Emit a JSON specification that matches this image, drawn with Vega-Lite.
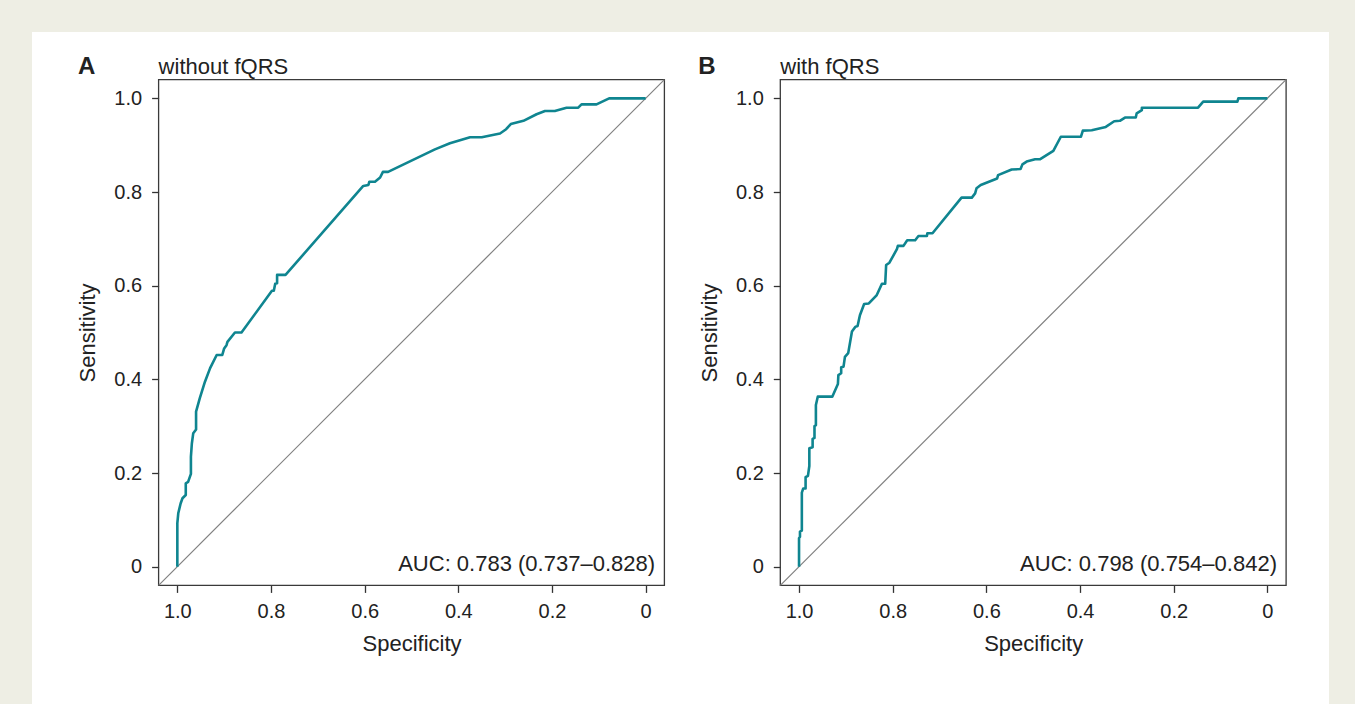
{
  "$schema": "https://vega.github.io/schema/vega-lite/v6.json",
  "background": "#EEEEE4",
  "padding": {"left": 32, "top": 32, "right": 26, "bottom": 0},
  "spacing": 0,
  "bounds": "flush",
  "config": {
    "font": "Liberation Sans",
    "view": {"stroke": null},
    "axis": {
      "domain": false,
      "grid": false,
      "tickSize": 7,
      "tickColor": "#333333",
      "tickWidth": 1.3,
      "labelFontSize": 20,
      "labelColor": "#222222",
      "labelFlush": false,
      "labelOverlap": false,
      "titleFontSize": 22,
      "titleFontWeight": "normal",
      "titleColor": "#222222"
    }
  },
  "datasets": {
    "rocA": [
      {"i": 1, "spec": 1.0, "sens": 0.0},
      {"i": 2, "spec": 1.0, "sens": 0.093},
      {"i": 3, "spec": 0.998, "sens": 0.114},
      {"i": 4, "spec": 0.993, "sens": 0.135},
      {"i": 5, "spec": 0.989, "sens": 0.146},
      {"i": 6, "spec": 0.982, "sens": 0.153},
      {"i": 7, "spec": 0.982, "sens": 0.178},
      {"i": 8, "spec": 0.977, "sens": 0.181},
      {"i": 9, "spec": 0.971, "sens": 0.198},
      {"i": 10, "spec": 0.971, "sens": 0.235},
      {"i": 11, "spec": 0.969, "sens": 0.263},
      {"i": 12, "spec": 0.966, "sens": 0.285},
      {"i": 13, "spec": 0.96, "sens": 0.293},
      {"i": 14, "spec": 0.96, "sens": 0.331},
      {"i": 15, "spec": 0.952, "sens": 0.36},
      {"i": 16, "spec": 0.941, "sens": 0.395},
      {"i": 17, "spec": 0.93, "sens": 0.424},
      {"i": 18, "spec": 0.916, "sens": 0.452},
      {"i": 19, "spec": 0.904, "sens": 0.452},
      {"i": 20, "spec": 0.9, "sens": 0.466},
      {"i": 21, "spec": 0.895, "sens": 0.473},
      {"i": 22, "spec": 0.893, "sens": 0.48},
      {"i": 23, "spec": 0.877, "sens": 0.5},
      {"i": 24, "spec": 0.863, "sens": 0.5},
      {"i": 25, "spec": 0.798, "sens": 0.589},
      {"i": 26, "spec": 0.794, "sens": 0.589},
      {"i": 27, "spec": 0.791, "sens": 0.604},
      {"i": 28, "spec": 0.787, "sens": 0.605},
      {"i": 29, "spec": 0.787, "sens": 0.623},
      {"i": 30, "spec": 0.769, "sens": 0.623},
      {"i": 31, "spec": 0.603, "sens": 0.813},
      {"i": 32, "spec": 0.592, "sens": 0.815},
      {"i": 33, "spec": 0.59, "sens": 0.822},
      {"i": 34, "spec": 0.578, "sens": 0.822},
      {"i": 35, "spec": 0.567, "sens": 0.831},
      {"i": 36, "spec": 0.561, "sens": 0.843},
      {"i": 37, "spec": 0.55, "sens": 0.843},
      {"i": 38, "spec": 0.45, "sens": 0.891},
      {"i": 39, "spec": 0.418, "sens": 0.904},
      {"i": 40, "spec": 0.375, "sens": 0.917},
      {"i": 41, "spec": 0.35, "sens": 0.917},
      {"i": 42, "spec": 0.311, "sens": 0.925},
      {"i": 43, "spec": 0.298, "sens": 0.934},
      {"i": 44, "spec": 0.288, "sens": 0.945},
      {"i": 45, "spec": 0.261, "sens": 0.952},
      {"i": 46, "spec": 0.233, "sens": 0.966},
      {"i": 47, "spec": 0.215, "sens": 0.973},
      {"i": 48, "spec": 0.194, "sens": 0.973},
      {"i": 49, "spec": 0.169, "sens": 0.98},
      {"i": 50, "spec": 0.144, "sens": 0.98},
      {"i": 51, "spec": 0.137, "sens": 0.987},
      {"i": 52, "spec": 0.105, "sens": 0.987},
      {"i": 53, "spec": 0.078, "sens": 1.0},
      {"i": 54, "spec": 0.0, "sens": 1.0}
    ],
    "rocB": [
      {"i": 1, "spec": 1.0, "sens": 0.0},
      {"i": 2, "spec": 1.0, "sens": 0.061},
      {"i": 3, "spec": 0.998, "sens": 0.064},
      {"i": 4, "spec": 0.998, "sens": 0.075},
      {"i": 5, "spec": 0.994, "sens": 0.077},
      {"i": 6, "spec": 0.994, "sens": 0.158},
      {"i": 7, "spec": 0.991, "sens": 0.167},
      {"i": 8, "spec": 0.986, "sens": 0.167},
      {"i": 9, "spec": 0.986, "sens": 0.191},
      {"i": 10, "spec": 0.981, "sens": 0.194},
      {"i": 11, "spec": 0.978, "sens": 0.215},
      {"i": 12, "spec": 0.978, "sens": 0.253},
      {"i": 13, "spec": 0.971, "sens": 0.255},
      {"i": 14, "spec": 0.971, "sens": 0.273},
      {"i": 15, "spec": 0.967, "sens": 0.275},
      {"i": 16, "spec": 0.967, "sens": 0.3},
      {"i": 17, "spec": 0.964, "sens": 0.302},
      {"i": 18, "spec": 0.964, "sens": 0.345},
      {"i": 19, "spec": 0.96, "sens": 0.363},
      {"i": 20, "spec": 0.929, "sens": 0.363},
      {"i": 21, "spec": 0.917, "sens": 0.39},
      {"i": 22, "spec": 0.916, "sens": 0.409},
      {"i": 23, "spec": 0.91, "sens": 0.413},
      {"i": 24, "spec": 0.91, "sens": 0.426},
      {"i": 25, "spec": 0.905, "sens": 0.427},
      {"i": 26, "spec": 0.902, "sens": 0.448},
      {"i": 27, "spec": 0.895, "sens": 0.456},
      {"i": 28, "spec": 0.887, "sens": 0.502},
      {"i": 29, "spec": 0.88, "sens": 0.512},
      {"i": 30, "spec": 0.875, "sens": 0.514},
      {"i": 31, "spec": 0.87, "sens": 0.537},
      {"i": 32, "spec": 0.861, "sens": 0.561},
      {"i": 33, "spec": 0.851, "sens": 0.562},
      {"i": 34, "spec": 0.834, "sens": 0.58},
      {"i": 35, "spec": 0.823, "sens": 0.604},
      {"i": 36, "spec": 0.816, "sens": 0.604},
      {"i": 37, "spec": 0.814, "sens": 0.644},
      {"i": 38, "spec": 0.807, "sens": 0.649},
      {"i": 39, "spec": 0.791, "sens": 0.678},
      {"i": 40, "spec": 0.789, "sens": 0.685},
      {"i": 41, "spec": 0.777, "sens": 0.685},
      {"i": 42, "spec": 0.769, "sens": 0.697},
      {"i": 43, "spec": 0.752, "sens": 0.697},
      {"i": 44, "spec": 0.745, "sens": 0.706},
      {"i": 45, "spec": 0.727, "sens": 0.706},
      {"i": 46, "spec": 0.726, "sens": 0.712},
      {"i": 47, "spec": 0.715, "sens": 0.712},
      {"i": 48, "spec": 0.653, "sens": 0.788},
      {"i": 49, "spec": 0.631, "sens": 0.788},
      {"i": 50, "spec": 0.624, "sens": 0.797},
      {"i": 51, "spec": 0.621, "sens": 0.808},
      {"i": 52, "spec": 0.612, "sens": 0.815},
      {"i": 53, "spec": 0.577, "sens": 0.829},
      {"i": 54, "spec": 0.575, "sens": 0.836},
      {"i": 55, "spec": 0.546, "sens": 0.848},
      {"i": 56, "spec": 0.527, "sens": 0.849},
      {"i": 57, "spec": 0.523, "sens": 0.859},
      {"i": 58, "spec": 0.514, "sens": 0.865},
      {"i": 59, "spec": 0.496, "sens": 0.87},
      {"i": 60, "spec": 0.485, "sens": 0.87},
      {"i": 61, "spec": 0.457, "sens": 0.888},
      {"i": 62, "spec": 0.441, "sens": 0.918},
      {"i": 63, "spec": 0.398, "sens": 0.918},
      {"i": 64, "spec": 0.394, "sens": 0.931},
      {"i": 65, "spec": 0.375, "sens": 0.932},
      {"i": 66, "spec": 0.345, "sens": 0.939},
      {"i": 67, "spec": 0.327, "sens": 0.951},
      {"i": 68, "spec": 0.315, "sens": 0.952},
      {"i": 69, "spec": 0.304, "sens": 0.959},
      {"i": 70, "spec": 0.281, "sens": 0.959},
      {"i": 71, "spec": 0.279, "sens": 0.968},
      {"i": 72, "spec": 0.268, "sens": 0.975},
      {"i": 73, "spec": 0.268, "sens": 0.98},
      {"i": 74, "spec": 0.148, "sens": 0.98},
      {"i": 75, "spec": 0.137, "sens": 0.993},
      {"i": 76, "spec": 0.064, "sens": 0.993},
      {"i": 77, "spec": 0.062, "sens": 1.0},
      {"i": 78, "spec": 0.0, "sens": 1.0}
    ]
  },
  "hconcat": [
    {
      "width": 658,
      "height": 672,
      "view": {"fill": "white", "stroke": null},
      "layer": [
        {
          "data": {"values": [{}]},
          "mark": {"type": "rect", "filled": false, "stroke": "#3a3a3a", "strokeWidth": 1.3},
          "encoding": {
            "x": {"datum": 1.04, "type": "quantitative"},
            "x2": {"datum": -0.04},
            "y": {"datum": -0.04, "type": "quantitative"},
            "y2": {"datum": 1.04}
          }
        },
        {
          "data": {"values": [{}]},
          "mark": {"type": "rule", "color": "#808080", "strokeWidth": 1.2},
          "encoding": {
            "x": {"datum": 1.04, "type": "quantitative"},
            "x2": {"datum": -0.04},
            "y": {"datum": -0.04, "type": "quantitative"},
            "y2": {"datum": 1.04}
          }
        },
        {
          "data": {"name": "rocA"},
          "mark": {"type": "line", "color": "#0f8590", "strokeWidth": 2.6, "strokeJoin": "round"},
          "encoding": {
            "x": {
              "field": "spec", "type": "quantitative",
              "scale": {"domain": [-0.04, 1.04], "range": [632.4, 126.6], "nice": false, "zero": false},
              "axis": {"title": "Specificity", "values": [0, 0.2, 0.4, 0.6, 0.8, 1], "labelExpr": "datum.value == 0 ? '0' : format(datum.value, '.1f')", "offset": -118.6, "labelPadding": 9, "titlePadding": 12}
            },
            "y": {
              "field": "sens", "type": "quantitative",
              "scale": {"domain": [-0.04, 1.04], "range": [553.4, 47.6], "nice": false, "zero": false},
              "axis": {"title": "Sensitivity", "values": [0, 0.2, 0.4, 0.6, 0.8, 1], "labelExpr": "datum.value == 0 ? '0' : format(datum.value, '.1f')", "offset": -126.6, "labelPadding": 10, "titlePadding": 14}
            },
            "order": {"field": "i", "type": "quantitative"}
          }
        },
        {
          "data": {"values": [{"label": "A"}]},
          "mark": {"type": "text", "align": "left", "baseline": "alphabetic", "fontSize": 24, "fontWeight": "bold", "color": "#222222"},
          "encoding": {
            "x": {"datum": 1.212, "type": "quantitative"},
            "y": {"datum": 1.053, "type": "quantitative"},
            "text": {"field": "label"}
          }
        },
        {
          "data": {"values": [{"label": "without fQRS"}]},
          "mark": {"type": "text", "align": "left", "baseline": "alphabetic", "fontSize": 22, "color": "#222222"},
          "encoding": {
            "x": {"datum": 1.04, "type": "quantitative"},
            "y": {"datum": 1.053, "type": "quantitative"},
            "text": {"field": "label"}
          }
        },
        {
          "data": {"values": [{"label": "AUC: 0.783 (0.737–0.828)"}]},
          "mark": {"type": "text", "align": "right", "baseline": "alphabetic", "fontSize": 22, "color": "#222222"},
          "encoding": {
            "x": {"datum": -0.02, "type": "quantitative"},
            "y": {"datum": -0.009, "type": "quantitative"},
            "text": {"field": "label"}
          }
        }
      ]
    },
    {
      "width": 639,
      "height": 672,
      "view": {"fill": "white", "stroke": null},
      "layer": [
        {
          "data": {"values": [{}]},
          "mark": {"type": "rect", "filled": false, "stroke": "#3a3a3a", "strokeWidth": 1.3},
          "encoding": {
            "x": {"datum": 1.04, "type": "quantitative"},
            "x2": {"datum": -0.04},
            "y": {"datum": -0.04, "type": "quantitative"},
            "y2": {"datum": 1.04}
          }
        },
        {
          "data": {"values": [{}]},
          "mark": {"type": "rule", "color": "#808080", "strokeWidth": 1.2},
          "encoding": {
            "x": {"datum": 1.04, "type": "quantitative"},
            "x2": {"datum": -0.04},
            "y": {"datum": -0.04, "type": "quantitative"},
            "y2": {"datum": 1.04}
          }
        },
        {
          "data": {"name": "rocB"},
          "mark": {"type": "line", "color": "#0f8590", "strokeWidth": 2.6, "strokeJoin": "round"},
          "encoding": {
            "x": {
              "field": "spec", "type": "quantitative",
              "scale": {"domain": [-0.04, 1.04], "range": [596.1, 90.3], "nice": false, "zero": false},
              "axis": {"title": "Specificity", "values": [0, 0.2, 0.4, 0.6, 0.8, 1], "labelExpr": "datum.value == 0 ? '0' : format(datum.value, '.1f')", "offset": -118.6, "labelPadding": 9, "titlePadding": 12}
            },
            "y": {
              "field": "sens", "type": "quantitative",
              "scale": {"domain": [-0.04, 1.04], "range": [553.4, 47.6], "nice": false, "zero": false},
              "axis": {"title": "Sensitivity", "values": [0, 0.2, 0.4, 0.6, 0.8, 1], "labelExpr": "datum.value == 0 ? '0' : format(datum.value, '.1f')", "offset": -90.3, "labelPadding": 10, "titlePadding": 14}
            },
            "order": {"field": "i", "type": "quantitative"}
          }
        },
        {
          "data": {"values": [{"label": "B"}]},
          "mark": {"type": "text", "align": "left", "baseline": "alphabetic", "fontSize": 24, "fontWeight": "bold", "color": "#222222"},
          "encoding": {
            "x": {"datum": 1.215, "type": "quantitative"},
            "y": {"datum": 1.053, "type": "quantitative"},
            "text": {"field": "label"}
          }
        },
        {
          "data": {"values": [{"label": "with fQRS"}]},
          "mark": {"type": "text", "align": "left", "baseline": "alphabetic", "fontSize": 22, "color": "#222222"},
          "encoding": {
            "x": {"datum": 1.04, "type": "quantitative"},
            "y": {"datum": 1.053, "type": "quantitative"},
            "text": {"field": "label"}
          }
        },
        {
          "data": {"values": [{"label": "AUC: 0.798 (0.754–0.842)"}]},
          "mark": {"type": "text", "align": "right", "baseline": "alphabetic", "fontSize": 22, "color": "#222222"},
          "encoding": {
            "x": {"datum": -0.0205, "type": "quantitative"},
            "y": {"datum": -0.009, "type": "quantitative"},
            "text": {"field": "label"}
          }
        }
      ]
    }
  ]
}
